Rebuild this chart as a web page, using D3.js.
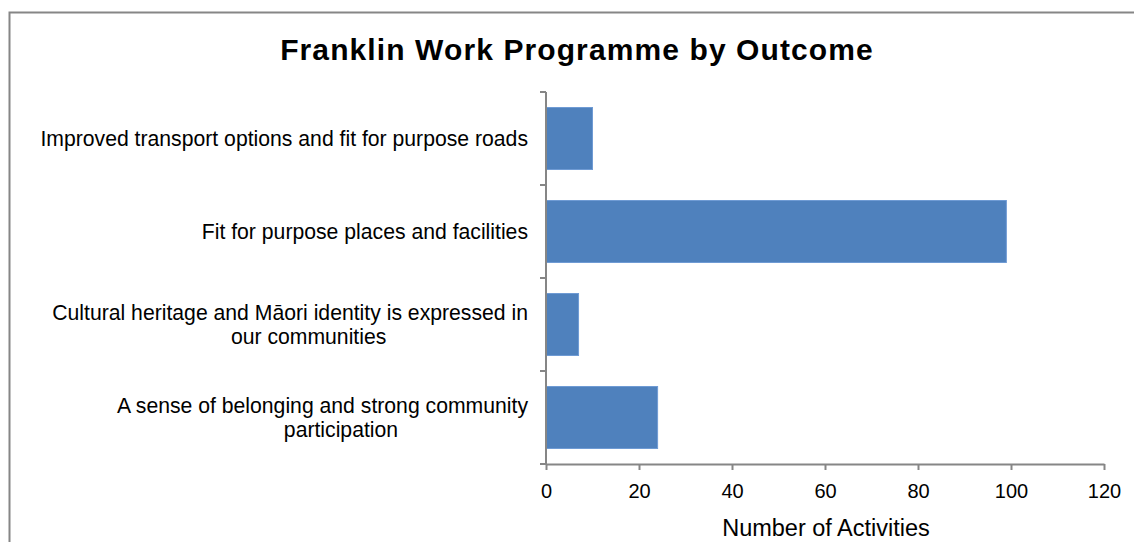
<!DOCTYPE html>
<html>
<head>
<meta charset="utf-8">
<script src="https://cdn.jsdelivr.net/npm/d3@7"></script>
<style>
  html, body { margin: 0; padding: 0; background: #fff; }
  svg { display: block; }
  text { font-family: "Liberation Sans", Arial, sans-serif; fill: #000; }
</style>
</head>
<body>
<svg id="chart" width="1134" height="542"></svg>
<script>
// Outcome categories, top to bottom, each split into display lines
const categories = [
  ["Improved transport options and fit for purpose roads"],
  ["Fit for purpose places and facilities"],
  ["Cultural heritage and Māori identity is expressed in", "our communities"],
  ["A sense of belonging and strong community", "participation"]
];
const activityCounts = [10, 99, 7, 24];
const xTicks = [0, 20, 40, 60, 80, 100, 120];

const chartTitle = "Franklin Work Programme by Outcome";
const xAxisTitle = "Number of Activities";

const svg = d3.select("#chart");
const W = 1134, H = 542;

// outer chart frame
svg.append("rect")
  .attr("x", 9.5).attr("y", 12.5)
  .attr("width", W + 20).attr("height", H + 20)
  .attr("fill", "#fff")
  .attr("stroke", "#868686").attr("stroke-width", 2);

const plot = { left: 546, right: 1104, top: 92, bottom: 464 };

const x = d3.scaleLinear().domain([0, 120]).range([plot.left, plot.right]);
const y = d3.scaleBand()
  .domain(d3.range(categories.length))
  .range([plot.top, plot.bottom])
  .paddingInner(1 / 3)
  .paddingOuter(1 / 6);

// title
svg.append("text")
  .attr("x", 577).attr("y", 60)
  .attr("text-anchor", "middle")
  .attr("font-size", 30).attr("font-weight", "bold")
  .attr("letter-spacing", 1.1)
  .text(chartTitle);

// bars
svg.append("g").selectAll("rect")
  .data(activityCounts)
  .join("rect")
  .attr("x", x(0))
  .attr("y", (d, i) => y(i))
  .attr("width", d => x(d) - x(0))
  .attr("height", y.bandwidth())
  .attr("fill", "#4F81BD")
  .attr("stroke", "#6f9bd4").attr("stroke-width", 1);

// x axis
const xAxis = svg.append("g")
  .attr("transform", `translate(0,${plot.bottom})`)
  .call(d3.axisBottom(x).tickValues(xTicks).tickSize(6).tickSizeOuter(0).tickPadding(14));
xAxis.select(".domain").attr("stroke", "#868686").attr("stroke-width", 2);
xAxis.selectAll(".tick line").attr("stroke", "#868686").attr("stroke-width", 2);
xAxis.selectAll(".tick text")
  .attr("font-size", 20).attr("font-family", "Liberation Sans, Arial, sans-serif").attr("fill", "#000");

// y axis (category boundaries as ticks)
const yEdge = d3.scaleLinear().domain([0, categories.length]).range([plot.top, plot.bottom]);
const yAxis = svg.append("g").attr("transform", `translate(${plot.left},0)`);
yAxis.append("line")
  .attr("x1", 0).attr("x2", 0)
  .attr("y1", yEdge(0)).attr("y2", yEdge(categories.length))
  .attr("stroke", "#868686").attr("stroke-width", 2);
yAxis.selectAll("line.tick")
  .data(d3.range(categories.length + 1))
  .join("line").attr("class", "tick")
  .attr("x1", -6).attr("x2", 0)
  .attr("y1", d => yEdge(d)).attr("y2", d => yEdge(d))
  .attr("stroke", "#868686").attr("stroke-width", 2);

// category labels
const labelRight = 528;
const lineH = 24;
const labels = svg.append("g");
categories.forEach((lines, i) => {
  const cy = y(i) + y.bandwidth() / 2;
  const t = labels.append("text").attr("font-size", 21.2);
  const y0 = cy - (lines.length - 1) * lineH / 2 + 7.5;
  const first = t.append("tspan").attr("x", labelRight).attr("y", y0)
    .attr("text-anchor", "end").text(lines[0]);
  if (lines.length > 1) {
    const w = first.node().getComputedTextLength();
    t.append("tspan")
      .attr("x", labelRight - w / 2 + 18.5).attr("y", y0 + lineH)
      .attr("text-anchor", "middle").text(lines[1]);
  }
});

// x axis title
svg.append("text")
  .attr("x", 826).attr("y", 536)
  .attr("text-anchor", "middle")
  .attr("font-size", 23.5)
  .text(xAxisTitle);
</script>
</body>
</html>
